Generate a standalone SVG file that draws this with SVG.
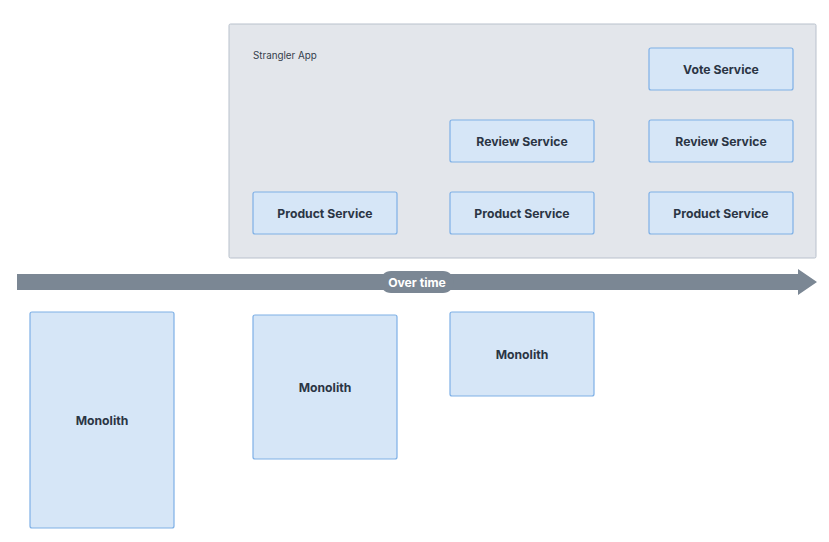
<svg xmlns="http://www.w3.org/2000/svg" width="829" height="542" viewBox="0 0 829 542">
<style>
.node rect{fill:#d6e6f7;stroke:#7eb0e6;stroke-width:1.2}
.node text{font-family:Inter,"Noto Sans","Liberation Sans",sans-serif;font-weight:700;font-size:12.2px;fill:#2b3544;text-anchor:middle;dominant-baseline:central}
</style>
<rect width="829" height="542" fill="#ffffff"/>
<g id="strangler-app">
<rect x="229" y="24" width="587" height="234" rx="1.5" fill="#e3e6eb" stroke="#b9c1cc" stroke-width="1"/>
<text x="253" y="59" font-family="Inter,'Noto Sans','Liberation Sans',sans-serif" font-size="9.8" fill="#333d4a">Strangler App</text>
</g>
<g id="connectors">
<path d="M17 274 H798 V269 L817 282 L798 295 V290 H17 Z" fill="#7b8794"/>
<rect x="380" y="271" width="74" height="22" rx="11" fill="#7b8794"/>
<text x="417" y="282" font-family="Inter,'Noto Sans','Liberation Sans',sans-serif" font-weight="700" font-size="12.2" fill="#ffffff" text-anchor="middle" dominant-baseline="central">Over time</text>
</g>
<g id="vote-service" class="node"><rect x="649" y="48" width="144" height="42" rx="2"/><text x="721" y="69">Vote Service</text></g>
<g id="review-service-2" class="node"><rect x="450" y="120" width="144" height="42" rx="2"/><text x="522" y="141">Review Service</text></g>
<g id="review-service-3" class="node"><rect x="649" y="120" width="144" height="42" rx="2"/><text x="721" y="141">Review Service</text></g>
<g id="product-service-1" class="node"><rect x="253" y="192" width="144" height="42" rx="2"/><text x="325" y="213">Product Service</text></g>
<g id="product-service-2" class="node"><rect x="450" y="192" width="144" height="42" rx="2"/><text x="522" y="213">Product Service</text></g>
<g id="product-service-3" class="node"><rect x="649" y="192" width="144" height="42" rx="2"/><text x="721" y="213">Product Service</text></g>
<g id="monolith-1" class="node"><rect x="30" y="312" width="144" height="216" rx="2"/><text x="102" y="420">Monolith</text></g>
<g id="monolith-2" class="node"><rect x="253" y="315" width="144" height="144" rx="2"/><text x="325" y="387">Monolith</text></g>
<g id="monolith-3" class="node"><rect x="450" y="312" width="144" height="84" rx="2"/><text x="522" y="354">Monolith</text></g>
</svg>
